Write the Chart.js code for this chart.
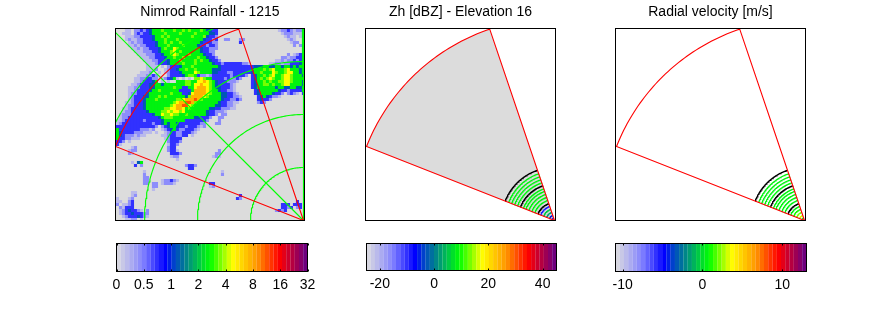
<!DOCTYPE html>
<html>
<head>
<meta charset="utf-8">
<title>Nimrod rainfall and radar scan</title>
<script src="https://cdn.jsdelivr.net/npm/chart.js@4"></script>
<style>
html, body { margin: 0; padding: 0; background: #fff; }
canvas { position: absolute; left: 0; top: 0; }
</style>
</head>
<body>
<canvas id="map1" width="889" height="333"></canvas>
<canvas id="map2" width="889" height="333"></canvas>
<canvas id="map3" width="889" height="333"></canvas>
<canvas id="bar1" width="889" height="333"></canvas>
<canvas id="bar2" width="889" height="333"></canvas>
<canvas id="bar3" width="889" height="333"></canvas>
<script>
// rainfall field, 2.83 km cells, '.' = no rain, 1-9 = colour class
const rainRows = [
"...11.2232 3455565556 5565655565 4433...... .......... ....122321 225",
"..111.2323 3455556555 5655556555 5443...... .......... .....12221 115",
"...1112233 3345565655 5555565556 4332...... .......... ......1211 .15",
"...1211223 3345556555 6555555554 3323..22.. .22....... .......121 ..5",
"....121223 3334556565 5655555543 3322...... .3........ ........12 2.5",
"....112122 3334555655 5565555433 2332...... .......... .........2 .25",
".....11212 2333456557 6555555543 3222...... .......... .......... ..5",
"......1112 2233455567 5655555543 322....... .......... .......... ..5",
".......111 2223345567 6555655554 332....... .......... .......2.1 235",
"........11 1223334556 5565555655 4332...... .......... .....22122 335",
".........1 1122333455 5655556565 54332..... .......... ...1121223 235",
".......... 1112333455 5565556555 5543323333 33221..... .112212233 345",
".......... 1111.1.233 3455565555 5555433333 3333334445 5445545545 455",
".......... 1112..1233 4556556555 5544433333 3333345556 5675556755 545",
"........11 12..1.1233 3455557655 5544333223 3333345565 5576556775 545",
".......111 2232...233 3345665322 1233333323 3332.34556 5675567765 554",
"......1122 3322.12345 1.1.1.6676 5533332322 32...34565 6765567765 555",
"......1123 3345.1.1.. 5556655778 7654333222 1....34556 5655667765 554",
".....11233 3445545555 5556657787 7654333321 .....34556 6565567755 554",
"....112233 3445555556 5533557888 7654433321 .....34555 5554554455 445",
"....112333 3455655555 5333358888 7655433221 ......3455 5555433233 335",
"....122333 4555555565 5533478888 7655544332 1.....3455 554332.232 1.3",
"....123334 4555656555 5554688887 6555544332 21.....345 43221..... ...",
"....123334 5556555555 6678889865 5555543322 32.....343 32........ ...",
"...1123334 5555555556 7889986555 5555433221 1......232 .......... ...",
"...1223334 5555555567 8899765555 5554433221 .......... .......... ...",
"..11233334 5555556677 8875655555 5443322211 .......... .......... ...",
"..12233333 4555566767 7675555555 4332221... .......... .......... ...",
".122233333 3345576676 6556555555 4332.22... .......... .......... ...",
".122333333 3333456665 5555554433 32..22.... .......... .......... ...",
"1123333332 3333345555 5553333333 2...2..... .......... .......... ...",
"1233333333 3323345455 4333333322 ...22..... .......... .......... ...",
"3333333333 3332.23455 4332333212 .......... .......... .......... ...",
"5333333322 212..12345 32233321.. .......... .......... .......... ...",
"5433332221 11.1..1233 2233321... .......... .......... .......... ...",
"5432221211 .....11233 2233.1.... .......... .......... .......... ...",
"53322111.. ......1233 33........ .......... .......... .......... ...",
"332.1..... .......233 32........ .......... .......... .......... ...",
"31........ .......133 2......... .......... .......... .......... ...",
".....12... .......233 .......... .......... .......... .......... ...",
"....122... .......233 1......... ....2..... .......... .......... ...",
"....21.... ........33 32........ ...22..... .......... .......... ...",
".......... ........12 2......... ..121..... .......... .......... ...",
".......... .......... 1......... .......... .......... .......... ...",
".....1.45. .......... .......... .......... .......... .......... ...",
"......3.2. .......... ...2332... .......... .......... .......... ...",
".......... .......... ....33.... .......... .......... .......... ...",
".........1 .......... .......... .....1.... .......... .......... ...",
".........2 .......... .......... .....2.... .......... .......... ...",
".........2 2......... .......... .......... .......... .......... ...",
".........2 2....12232 1......... .......... .......... .......... ...",
".........2 2.22.12221 .......... .33....... .......... .......... ...",
".......... ..22...... .......... .12....... .......... .......... ...",
".......... ..1....... .......... .......... .......... .......... ...",
".....11... .......... .......... .......... .......... .......... ...",
".....12... .......... .......... .......... .3........ .......... ...",
"1...12.... .......... .......... .......... 32........ .......... ...",
"11..23.... .......... .......... .......... .......... .......... 3..",
"2.1123.... .......... .......... .......... .......... .....333.3 33.",
".21333.... .......... .......... .......... .......... .....3323. 23.",
".12343321. 2......... .......... .......... .......... ...2323... ...",
".123343332 2......... .......... .......... .......... .......... ...",
"..12333432 1......... .......... .......... .......... .......... ...",
"...1122.1. .......... .......... .......... .......... .......... ..."
];
const rainClassPos = [0.05, 0.13, 0.2, 0.33, 0.47, 0.54, 0.6, 0.7, 0.78];

// range rings and spokes of the map, sector of the radar scan
const ringKm = [50, 100, 150, 200];
const spokeAz = [0, -45, -90];
const sectorAz = [-68.5, -18.7];
const sectorKm = 190.6;

// range gates that returned data in the scan
const gateKm = [2.5, 5, 8, 11, 14, 20, 23, 26, 29, 31.5, 37.5, 40.5, 43.5, 46.5];
const gateZh = [-8, -6, 3, 6, -8, 9.3, 9.3, 9.3, 9.3, 9.3, 9.3, 9.3, 9.3, 9.3];
const gateVel = [0.5, 3, 2, 1, 0.8, 0.8, 0.8, 0.8, 0.8, 0.8, 0.8, 0.8, 0.8, 0.8];
const markerRingKm = [16.7, 34.5, 50];

// colour bars
const rainTicks = [0, 1, 2, 3, 4, 5, 6, 7];
const rainTickLabels = ["0", "0.5", "1", "2", "4", "8", "16", "32"];
const zhTicks = [-20, 0, 20, 40];
const velTicks = [-10, 0, 10];

const colorLevels = 45;
const colorStops = [
    [0, 215, 215, 225], [0.07, 170, 170, 240], [0.13, 130, 130, 255], [0.25, 0, 0, 255],
    [0.3, 0, 70, 200], [0.37, 0, 140, 130], [0.43, 0, 200, 70], [0.49, 0, 255, 0], [0.61, 255, 255, 0],
    [0.74, 255, 150, 0], [0.86, 255, 0, 0], [1, 110, 0, 125]
];

Chart.defaults.font.family = '"Liberation Sans", Arial, sans-serif';
Chart.defaults.font.size = 14;
Chart.defaults.color = "#000";
Chart.defaults.animation = false;

function colorAt(pos) {
    const level = Math.min(colorLevels - 1, Math.floor(pos * colorLevels));
    const f = level / (colorLevels - 1);
    let i = 0;
    while (i < colorStops.length - 2 && f > colorStops[i + 1][0]) i++;
    const a = colorStops[i], b = colorStops[i + 1];
    const t = (f - a[0]) / (b[0] - a[0]);
    const c = [1, 2, 3].map(k => Math.round(a[k] + (b[k] - a[k]) * t));
    return "rgb(" + c.join(",") + ")";
}

// polar to map coordinates, azimuth in degrees from north
function polar(km, az) {
    const a = az * Math.PI / 180;
    return { x: km * Math.sin(a), y: km * Math.cos(a) };
}
function arc(km, az0, az1) {
    const pts = [];
    for (let az = az0; az < az1; az += 1) pts.push(polar(km, az));
    pts.push(polar(km, az1));
    return pts;
}

const framePlugin = {
    id: "frame",
    afterDatasetsDraw(chart) {
        const a = chart.chartArea, ctx = chart.ctx;
        ctx.save();
        ctx.strokeStyle = "#000";
        ctx.lineWidth = 1;
        ctx.strokeRect(a.left, a.top, a.right - a.left, a.bottom - a.top);
        // matlab style ticks, inward on both edges of the colour bars
        if (chart.config.type === "bar") {
            const sx = chart.scales.x;
            ctx.beginPath();
            sx.ticks.forEach(t => {
                const px = Math.round(sx.getPixelForValue(t.value)) + 0.5;
                ctx.moveTo(px, a.top); ctx.lineTo(px, a.top + 2);
                ctx.moveTo(px, a.bottom); ctx.lineTo(px, a.bottom - 2);
            });
            ctx.stroke();
        }
        ctx.restore();
    }
};

function lineSet(data, color, width, extra) {
    return Object.assign({
        data: data, showLine: true, pointRadius: 0,
        borderColor: color, borderWidth: width
    }, extra || {});
}

function sectorOutline() {
    return [{ x: 0, y: 0 }].concat(arc(sectorKm, sectorAz[0], sectorAz[1]), [{ x: 0, y: 0 }]);
}

function rainPoints() {
    const cell = 2.83, x0 = -176.9, y0 = 180.7;
    const pts = [], colors = [];
    rainRows.forEach((row, r) => {
        row.replace(/ /g, "").split("").forEach((ch, c) => {
            if (ch === ".") return;
            pts.push({ x: x0 + (c + 0.5) * cell, y: y0 - (r + 0.5) * cell });
            colors.push(colorAt(rainClassPos[+ch - 1]));
        });
    });
    return { pts, colors };
}

function mapChart(id, titleText, box, datasets, background) {
    const kmPerPx = 1 / 1.06;
    new Chart(document.getElementById(id), {
        type: "scatter",
        data: { datasets: datasets },
        options: {
            responsive: false,
            layout: { padding: { left: box.left, right: 889 - box.right, top: 0, bottom: 333 - box.bottom } },
            plugins: {
                legend: { display: false },
                tooltip: { enabled: false },
                title: {
                    display: true, text: titleText, fullSize: false,
                    font: { size: 14, weight: "normal" },
                    padding: { top: 3.4, bottom: box.top - 20.2 }
                },
                background: { color: background }
            },
            scales: {
                x: { display: false, min: -(box.originX - box.left) * kmPerPx, max: (box.right - box.originX) * kmPerPx },
                y: { display: false, min: -(box.bottom - box.originY) * kmPerPx, max: (box.originY - box.top) * kmPerPx }
            }
        },
        plugins: [framePlugin, {
            id: "background",
            beforeDatasetsDraw(chart, args, opts) {
                if (!opts.color) return;
                const a = chart.chartArea;
                chart.ctx.save();
                chart.ctx.fillStyle = opts.color;
                chart.ctx.fillRect(a.left, a.top, a.right - a.left, a.bottom - a.top);
                chart.ctx.restore();
            }
        }]
    });
}

function barChart(id, box, min, max, ticks, labels) {
    const data = [], colors = [];
    for (let i = 0; i < colorLevels; i++) {
        const pos = (i + 0.5) / colorLevels;
        data.push({ x: min + pos * (max - min), y: 1 });
        colors.push(colorAt(pos));
    }
    new Chart(document.getElementById(id), {
        type: "bar",
        data: { datasets: [{ data: data, backgroundColor: colors, barPercentage: 1.03, categoryPercentage: 1, borderWidth: 0 }] },
        options: {
            responsive: false,
            layout: { padding: { left: box.left, right: 889 - box.right, top: box.top, bottom: 0 } },
            plugins: { legend: { display: false }, tooltip: { enabled: false } },
            scales: {
                x: {
                    type: "linear", min: min, max: max,
                    offset: false,
                    grid: { display: false, drawTicks: false },
                    border: { display: false },
                    afterBuildTicks(axis) { axis.ticks = ticks.map(v => ({ value: v })); },
                    ticks: {
                        autoSkip: false, maxRotation: 0, padding: 5,
                        font: { size: 14 },
                        callback(v) { return labels ? labels[ticks.indexOf(v)] : String(v); }
                    },
                    afterFit(axis) { axis.height = 333 - box.bottom; }
                },
                y: { display: false, min: 0, max: 1 }
            }
        },
        plugins: [framePlugin]
    });
}

// left panel: rainfall map with rings, spokes and scan sector
const rain = rainPoints();
const mapSets = [lineSet(sectorOutline(), "#ff0000", 1.1)];
ringKm.forEach(km => mapSets.push(lineSet(arc(km, -90, 0), "#00ff00", 1.15)));
spokeAz.forEach(az => mapSets.push(lineSet(arc(270, az, az).concat([polar(0.01, az)]), "#00ff00", 1.15)));
mapSets.push({ data: rain.pts, pointStyle: "rect", pointRadius: 2.2, pointBorderWidth: 0, pointBackgroundColor: rain.colors, showLine: false });
mapChart("map1", "Nimrod Rainfall - 1215", { left: 115.5, right: 304.5, top: 28.5, bottom: 220.5, originX: 303.5, originY: 220.5 }, mapSets, "#dcdcdc");

function scanSets(values, min, max, sectorFill) {
    const sets = [lineSet(sectorOutline(), "#ff0000", 1.1)];
    markerRingKm.forEach(km => sets.push(lineSet(arc(km, sectorAz[0], sectorAz[1]), "#000000", 1.4)));
    gateKm.forEach((km, i) => {
        sets.push(lineSet(arc(km, sectorAz[0], sectorAz[1]), colorAt((values[i] - min) / (max - min)), 1.3));
    });
    if (sectorFill) {
        sets.push(lineSet(sectorOutline(), "rgba(0,0,0,0)", 0, { fill: "shape", backgroundColor: sectorFill }));
    }
    return sets;
}

const zhMin = -24.9, zhMax = 45.1, velMin = -10.9, velMax = 13.05;
mapChart("map2", "Zh [dBZ] - Elevation 16", { left: 365.5, right: 555.5, top: 28.5, bottom: 220.5, originX: 554.5, originY: 220.5 }, scanSets(gateZh, zhMin, zhMax, "#dcdcdc"));
mapChart("map3", "Radial velocity [m/s]", { left: 615.5, right: 805.5, top: 28.5, bottom: 220.5, originX: 804.5, originY: 220.5 }, scanSets(gateVel, velMin, velMax, null));

barChart("bar1", { left: 116.5, right: 307.5, top: 243.5, bottom: 271.5 }, 0, 7, rainTicks, rainTickLabels);
barChart("bar2", { left: 366.5, right: 556.5, top: 243.5, bottom: 270.5 }, zhMin, zhMax, zhTicks);
barChart("bar3", { left: 615.5, right: 806.5, top: 243.5, bottom: 271.5 }, velMin, velMax, velTicks);
</script>
</body>
</html>
